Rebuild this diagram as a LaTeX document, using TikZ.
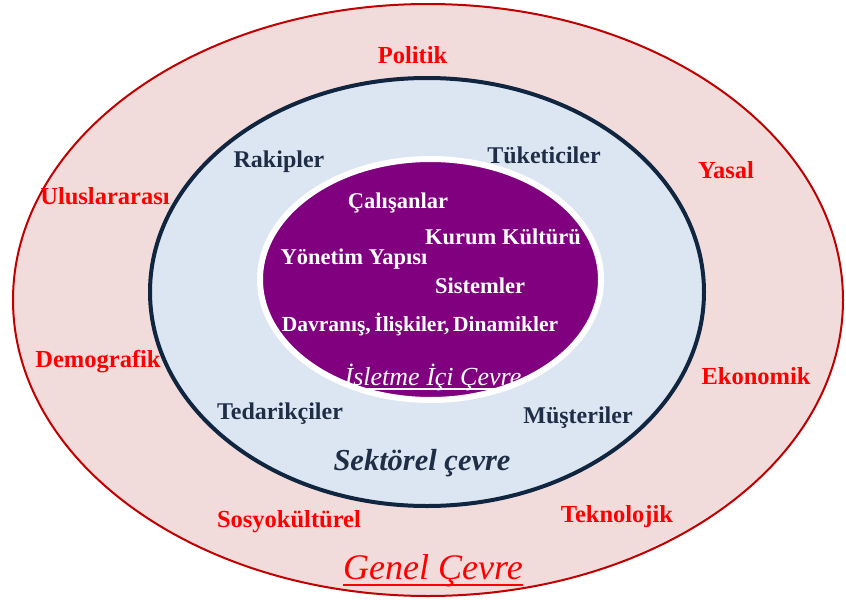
\documentclass[tikz,border=0pt]{standalone}
\usepackage{fontspec}
\setmainfont{Liberation Serif}
\definecolor{outerfill}{RGB}{242,220,219}
\definecolor{outerline}{RGB}{192,0,0}
\definecolor{midfill}{RGB}{220,230,242}
\definecolor{midline}{RGB}{16,37,63}
\definecolor{innerfill}{RGB}{128,0,128}
\definecolor{labred}{RGB}{255,0,0}
\definecolor{labnavy}{RGB}{31,45,70}
\begin{document}
\begin{tikzpicture}[x=1pt,y=-1pt,
  redlab/.style={text=labred, font=\fontsize{24.5}{26}\selectfont\bfseries, inner sep=0pt},
  navylab/.style={text=labnavy, font=\fontsize{24}{26}\selectfont\bfseries, inner sep=0pt},
  whitelab/.style={text=white, font=\fontsize{22.5}{24}\selectfont\bfseries, inner sep=0pt},
  title/.style={inner sep=0pt}]
\useasboundingbox (0,0) rectangle (846,605);

% three nested environments
\filldraw[fill=outerfill, draw=outerline, line width=2pt]
  (428,300) ellipse [x radius=415pt, y radius=296pt];
\filldraw[fill=midfill, draw=midline, line width=4pt]
  (427,292) ellipse [x radius=277pt, y radius=214pt];
\filldraw[fill=innerfill, draw=white, line width=6pt]
  (430.5,279.5) ellipse [x radius=170.5pt, y radius=120.5pt];

% general environment
\node[redlab] (politik) at (412.5,55) {Politik};
\node[redlab] (ulus) at (105,196) {Uluslararası};
\node[redlab] (yasal) at (726,170) {Yasal};
\node[redlab] (demog) at (98,362) {Demografik};
\node[redlab] (ekon) at (756,376) {Ekonomik};
\node[redlab] (sosyo) at (289,522) {Sosyokültürel};
\node[redlab] (tekno) at (617,517) {Teknolojik};
\node[title, text=labred, font=\fontsize{36}{40}\selectfont\itshape] (genel) at (433,571) {Genel Çevre};
\draw[labred, line width=1.8pt] ([yshift=-5pt]genel.base west) -- ([yshift=-5pt]genel.base east);

% sector environment
\node[navylab] (rakip) at (279,162) {Rakipler};
\node[navylab] (tuket) at (544,155) {Tüketiciler};
\node[navylab] (tedarik) at (280,414) {Tedarikçiler};
\node[navylab] (muster) at (578,418) {Müşteriler};
\node[title, text=labnavy, font=\fontsize{30.5}{34}\selectfont\bfseries\itshape] (sektor) at (422,463) {Sektörel çevre};

% internal environment
\node[whitelab] (calis) at (398,203) {Çalışanlar};
\node[whitelab] (kultur) at (503,237) {Kurum Kültürü};
\node[whitelab] (yonetim) at (354,259) {Yönetim Yapısı};
\node[whitelab] (sistem) at (480,286) {Sistemler};
\node[whitelab, font=\fontsize{21.5}{23}\selectfont\bfseries] (davran) at (420,324) {Davranış,\,İlişkiler,\,Dinamikler};
\node[title, text=white, font=\fontsize{26}{28}\selectfont\itshape] (isletme) at (433,377) {İşletme İçi Çevre};
\begin{scope}
  \clip (430.5,279.5) ellipse [x radius=173pt, y radius=123pt];
  \draw[white, line width=1.5pt] ([yshift=-4pt]isletme.base west) -- ([yshift=-4pt]isletme.base east);
\end{scope}
\end{tikzpicture}
\end{document}
